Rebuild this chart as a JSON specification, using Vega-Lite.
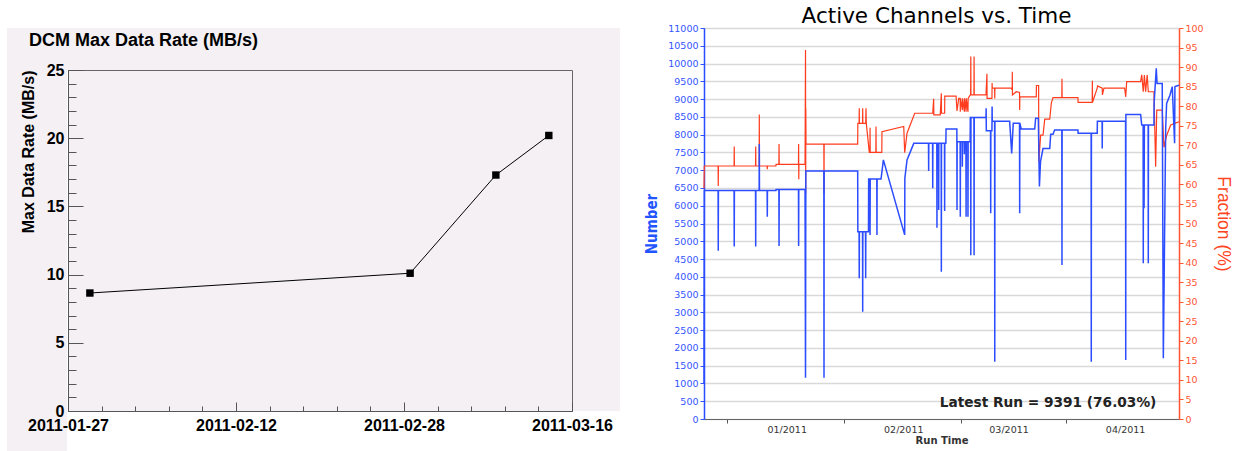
{
"$schema": "https://vega.github.io/schema/vega-lite/v6.json",
"background": "white",
"padding": {"left": 7, "top": 5, "right": 0, "bottom": 0},
"spacing": 697,
"bounds": "flush",
"config": {"view": {"stroke": null}},
"datasets": {
"rate": [
{"date": "2011-01-29T02:00", "rate": 8.65},
{"date": "2011-02-28T14:00", "rate": 10.1},
{"date": "2011-03-08T18:00", "rate": 17.3},
{"date": "2011-03-13T19:00", "rate": 20.2}
],
"note": [{"label": "Latest Run = 9391 (76.03%)"}],
"number": [
{"t":"2010-12-10T00:00","v":1000},{"t":"2010-12-10T02:00","v":6430},
{"t":"2010-12-13T18:00","v":6430},{"t":"2010-12-13T19:00","v":4730},{"t":"2010-12-13T20:00","v":6430},
{"t":"2010-12-18T00:00","v":6430},{"t":"2010-12-18T01:00","v":4850},{"t":"2010-12-18T02:00","v":6430},
{"t":"2010-12-23T17:00","v":6430},{"t":"2010-12-23T18:00","v":4850},{"t":"2010-12-23T19:00","v":6430},
{"t":"2010-12-24T16:00","v":6430},{"t":"2010-12-24T17:00","v":7740},{"t":"2010-12-24T18:00","v":6430},
{"t":"2010-12-26T19:00","v":6430},{"t":"2010-12-26T20:00","v":5690},{"t":"2010-12-26T21:00","v":6430},
{"t":"2010-12-29T03:00","v":6430},{"t":"2010-12-29T04:00","v":6460},
{"t":"2010-12-29T22:00","v":6460},{"t":"2010-12-29T23:00","v":4870},{"t":"2010-12-30T00:00","v":6460},
{"t":"2011-01-04T03:00","v":6460},{"t":"2011-01-04T04:00","v":4870},{"t":"2011-01-04T05:00","v":6460},
{"t":"2011-01-05T21:00","v":6460},{"t":"2011-01-06T00:00","v":1160},{"t":"2011-01-06T02:00","v":6980},
{"t":"2011-01-10T21:00","v":6980},{"t":"2011-01-10T22:00","v":1160},{"t":"2011-01-10T23:00","v":6980},
{"t":"2011-01-19T21:00","v":6980},{"t":"2011-01-19T22:00","v":5270},
{"t":"2011-01-20T06:00","v":5270},{"t":"2011-01-20T07:00","v":3960},{"t":"2011-01-20T08:00","v":5270},
{"t":"2011-01-21T04:00","v":5270},{"t":"2011-01-21T05:00","v":3020},{"t":"2011-01-21T06:00","v":5270},
{"t":"2011-01-21T23:00","v":5270},{"t":"2011-01-22T00:00","v":3960},{"t":"2011-01-22T01:00","v":5270},
{"t":"2011-01-22T18:00","v":5270},{"t":"2011-01-22T19:00","v":6750},
{"t":"2011-01-23T03:00","v":6750},{"t":"2011-01-23T04:00","v":5180},{"t":"2011-01-23T05:00","v":6750},
{"t":"2011-01-24T23:00","v":6750},{"t":"2011-01-25T00:00","v":5180},{"t":"2011-01-25T01:00","v":6750},
{"t":"2011-01-26T02:00","v":6750},{"t":"2011-01-26T17:00","v":7290},
{"t":"2011-02-01T09:00","v":5180},{"t":"2011-02-01T10:00","v":6770},{"t":"2011-02-02T00:00","v":7290},{"t":"2011-02-03T19:00","v":7755},
{"t":"2011-02-07T17:00","v":7755},{"t":"2011-02-07T18:00","v":6980},{"t":"2011-02-07T19:00","v":7755},
{"t":"2011-02-08T19:00","v":7755},{"t":"2011-02-08T20:00","v":6490},{"t":"2011-02-08T21:00","v":7755},
{"t":"2011-02-09T22:00","v":7755},{"t":"2011-02-09T23:00","v":5380},{"t":"2011-02-10T00:00","v":7755},
{"t":"2011-02-10T09:00","v":7755},{"t":"2011-02-10T10:00","v":5880},{"t":"2011-02-10T11:00","v":7755},
{"t":"2011-02-11T02:00","v":7755},{"t":"2011-02-11T03:00","v":4140},{"t":"2011-02-11T04:00","v":7755},
{"t":"2011-02-11T23:00","v":7755},{"t":"2011-02-12T00:00","v":5850},{"t":"2011-02-12T01:00","v":7755},
{"t":"2011-02-12T08:00","v":7755},{"t":"2011-02-12T09:00","v":8160},
{"t":"2011-02-15T06:00","v":8160},{"t":"2011-02-15T07:00","v":5880},{"t":"2011-02-15T08:00","v":7800},
{"t":"2011-02-16T03:00","v":7800},{"t":"2011-02-16T04:00","v":5690},{"t":"2011-02-16T05:00","v":7800},
{"t":"2011-02-16T16:00","v":7800},{"t":"2011-02-16T17:00","v":7100},{"t":"2011-02-16T18:00","v":7800},
{"t":"2011-02-17T05:00","v":7800},{"t":"2011-02-17T06:00","v":7450},{"t":"2011-02-17T07:00","v":7800},
{"t":"2011-02-17T16:00","v":7800},{"t":"2011-02-17T17:00","v":5690},{"t":"2011-02-17T18:00","v":7800},
{"t":"2011-02-18T04:00","v":7800},{"t":"2011-02-18T05:00","v":5690},{"t":"2011-02-18T06:00","v":7800},
{"t":"2011-02-18T19:00","v":7800},{"t":"2011-02-18T20:00","v":8480},
{"t":"2011-02-18T22:00","v":8480},{"t":"2011-02-18T23:00","v":4610},{"t":"2011-02-19T00:00","v":8480},
{"t":"2011-02-19T19:00","v":8480},{"t":"2011-02-19T20:00","v":4610},{"t":"2011-02-19T21:00","v":8480},
{"t":"2011-02-23T00:00","v":8480},{"t":"2011-02-23T01:00","v":8740},{"t":"2011-02-23T02:00","v":8110},
{"t":"2011-02-24T05:00","v":8110},{"t":"2011-02-24T06:00","v":5790},{"t":"2011-02-24T07:00","v":8110},
{"t":"2011-02-24T14:00","v":8110},{"t":"2011-02-24T15:00","v":8790},{"t":"2011-02-24T16:00","v":8380},
{"t":"2011-02-25T07:00","v":8380},{"t":"2011-02-25T08:00","v":1610},{"t":"2011-02-25T09:00","v":8380},
{"t":"2011-03-01T07:00","v":8380},{"t":"2011-03-01T20:00","v":7470},{"t":"2011-03-02T06:00","v":8320},
{"t":"2011-03-03T22:00","v":8320},{"t":"2011-03-03T23:00","v":5790},{"t":"2011-03-04T00:00","v":8320},{"t":"2011-03-04T09:00","v":8160},
{"t":"2011-03-07T23:00","v":8160},{"t":"2011-03-08T05:00","v":8460},
{"t":"2011-03-08T22:00","v":8460},{"t":"2011-03-09T05:00","v":6540},{"t":"2011-03-09T12:00","v":7240},{"t":"2011-03-10T04:00","v":7610},
{"t":"2011-03-11T23:00","v":7610},{"t":"2011-03-12T05:00","v":8010},{"t":"2011-03-12T20:00","v":8010},{"t":"2011-03-13T06:00","v":8130},
{"t":"2011-03-15T04:00","v":8130},{"t":"2011-03-15T05:00","v":4330},{"t":"2011-03-15T06:00","v":8130},
{"t":"2011-03-19T11:00","v":8130},{"t":"2011-03-19T12:00","v":8040},
{"t":"2011-03-22T23:00","v":8040},{"t":"2011-03-23T00:00","v":1610},{"t":"2011-03-23T01:00","v":8040},
{"t":"2011-03-24T14:00","v":8040},{"t":"2011-03-24T15:00","v":8380},
{"t":"2011-03-25T21:00","v":8380},{"t":"2011-03-25T22:00","v":7610},{"t":"2011-03-25T23:00","v":8380},
{"t":"2011-04-01T03:00","v":8380},{"t":"2011-04-01T04:00","v":1660},{"t":"2011-04-01T05:00","v":8570},
{"t":"2011-04-05T03:00","v":8570},{"t":"2011-04-05T10:00","v":8270},
{"t":"2011-04-05T19:00","v":8270},{"t":"2011-04-05T20:00","v":4380},{"t":"2011-04-05T21:00","v":8270},
{"t":"2011-04-06T01:00","v":5930},{"t":"2011-04-06T03:00","v":8270},
{"t":"2011-04-07T03:00","v":8270},{"t":"2011-04-07T04:00","v":4380},{"t":"2011-04-07T05:00","v":8270},
{"t":"2011-04-08T16:00","v":8270},{"t":"2011-04-08T17:00","v":8880},{"t":"2011-04-09T07:00","v":9865},{"t":"2011-04-09T12:00","v":9440},
{"t":"2011-04-10T21:00","v":9440},{"t":"2011-04-11T04:00","v":1710},{"t":"2011-04-11T19:00","v":8180},{"t":"2011-04-12T01:00","v":8880},
{"t":"2011-04-12T22:00","v":9110},{"t":"2011-04-13T13:00","v":9350},{"t":"2011-04-14T04:00","v":7760},{"t":"2011-04-14T06:00","v":9350},{"t":"2011-04-15T08:00","v":9391}
],
"fraction": [
{"t":"2010-12-10T00:00","v":59},{"t":"2010-12-10T02:00","v":64.7},
{"t":"2010-12-13T18:00","v":64.7},{"t":"2010-12-13T19:00","v":59.6},{"t":"2010-12-13T20:00","v":64.7},
{"t":"2010-12-18T00:00","v":64.7},{"t":"2010-12-18T01:00","v":69.7},{"t":"2010-12-18T02:00","v":64.7},
{"t":"2010-12-23T17:00","v":64.7},{"t":"2010-12-23T18:00","v":69.7},{"t":"2010-12-23T19:00","v":64.7},
{"t":"2010-12-24T16:00","v":64.7},{"t":"2010-12-24T17:00","v":77.9},{"t":"2010-12-24T18:00","v":64.7},
{"t":"2010-12-26T19:00","v":64.7},{"t":"2010-12-26T20:00","v":63.9},{"t":"2010-12-26T21:00","v":64.7},
{"t":"2010-12-29T03:00","v":64.7},{"t":"2010-12-29T04:00","v":65.1},
{"t":"2010-12-29T22:00","v":65.1},{"t":"2010-12-29T23:00","v":70.3},{"t":"2010-12-30T00:00","v":65.1},
{"t":"2011-01-04T03:00","v":65.1},{"t":"2011-01-04T04:00","v":70.3},{"t":"2011-01-04T05:00","v":61.3},{"t":"2011-01-04T06:00","v":65.1},
{"t":"2011-01-05T21:00","v":65.1},{"t":"2011-01-06T00:00","v":94.4},{"t":"2011-01-06T01:00","v":57.7},{"t":"2011-01-06T02:00","v":79.5},{"t":"2011-01-06T03:00","v":70.3},
{"t":"2011-01-10T21:00","v":70.3},{"t":"2011-01-10T22:00","v":57.7},{"t":"2011-01-10T23:00","v":70.3},
{"t":"2011-01-19T21:00","v":70.3},{"t":"2011-01-19T22:00","v":75.6},
{"t":"2011-01-20T06:00","v":75.6},{"t":"2011-01-20T07:00","v":79.5},{"t":"2011-01-20T08:00","v":75.6},
{"t":"2011-01-21T04:00","v":75.6},{"t":"2011-01-21T05:00","v":79.5},{"t":"2011-01-21T06:00","v":75.6},
{"t":"2011-01-22T00:00","v":75.6},{"t":"2011-01-22T02:00","v":79.5},{"t":"2011-01-22T04:00","v":75.6},
{"t":"2011-01-22T23:00","v":68.2},
{"t":"2011-01-23T03:00","v":68.2},{"t":"2011-01-23T04:00","v":74.5},{"t":"2011-01-23T05:00","v":68.2},
{"t":"2011-01-24T17:00","v":68.2},{"t":"2011-01-24T18:00","v":74.8},{"t":"2011-01-24T19:00","v":68.2},
{"t":"2011-01-26T07:00","v":68.2},{"t":"2011-01-26T08:00","v":73.5},
{"t":"2011-02-01T03:00","v":74.8},{"t":"2011-02-01T09:00","v":68.1},{"t":"2011-02-02T00:00","v":73.1},{"t":"2011-02-04T01:00","v":78.2},
{"t":"2011-02-08T20:00","v":78.2},{"t":"2011-02-09T02:00","v":81.9},{"t":"2011-02-09T03:00","v":77.8},
{"t":"2011-02-10T20:00","v":77.8},{"t":"2011-02-11T03:00","v":83.3},{"t":"2011-02-11T04:00","v":78.2},
{"t":"2011-02-12T00:00","v":78.2},{"t":"2011-02-12T01:00","v":82.6},
{"t":"2011-02-15T01:00","v":82.6},{"t":"2011-02-15T07:00","v":78.8},
{"t":"2011-02-15T18:00","v":82.0},{"t":"2011-02-16T03:00","v":82.0},{"t":"2011-02-16T04:00","v":78.6},{"t":"2011-02-16T05:00","v":82.0},
{"t":"2011-02-16T17:00","v":79.0},{"t":"2011-02-16T18:00","v":82.0},
{"t":"2011-02-17T06:00","v":78.6},{"t":"2011-02-17T07:00","v":82.0},
{"t":"2011-02-17T17:00","v":78.6},{"t":"2011-02-17T18:00","v":82.0},
{"t":"2011-02-18T05:00","v":78.6},{"t":"2011-02-18T06:00","v":82.0},
{"t":"2011-02-18T20:00","v":82.9},
{"t":"2011-02-18T22:00","v":82.9},{"t":"2011-02-18T23:00","v":92.7},{"t":"2011-02-19T00:00","v":82.9},
{"t":"2011-02-19T19:00","v":82.9},{"t":"2011-02-19T20:00","v":92.7},{"t":"2011-02-19T21:00","v":82.9},
{"t":"2011-02-23T00:00","v":82.9},{"t":"2011-02-23T06:00","v":88.3},{"t":"2011-02-23T07:00","v":82.0},
{"t":"2011-02-24T14:00","v":82.0},{"t":"2011-02-24T15:00","v":85.9},{"t":"2011-02-24T16:00","v":84.6},
{"t":"2011-02-25T07:00","v":84.6},{"t":"2011-02-25T08:00","v":82.0},{"t":"2011-02-25T09:00","v":84.6},
{"t":"2011-03-01T17:00","v":84.6},{"t":"2011-03-01T23:00","v":84.2},{"t":"2011-03-02T00:00","v":88.8},{"t":"2011-03-02T01:00","v":82.9},
{"t":"2011-03-03T01:00","v":83.7},
{"t":"2011-03-03T22:00","v":83.5},{"t":"2011-03-03T23:00","v":79.0},{"t":"2011-03-04T00:00","v":82.4},
{"t":"2011-03-08T09:00","v":82.4},{"t":"2011-03-08T10:00","v":85.3},
{"t":"2011-03-09T00:00","v":85.3},{"t":"2011-03-09T01:00","v":65.8},{"t":"2011-03-09T13:00","v":72.6},
{"t":"2011-03-10T04:00","v":72.6},{"t":"2011-03-10T15:00","v":76.7},
{"t":"2011-03-11T23:00","v":76.7},{"t":"2011-03-12T09:00","v":80.8},{"t":"2011-03-12T20:00","v":82.2},
{"t":"2011-03-15T04:00","v":82.2},{"t":"2011-03-15T05:00","v":87.0},{"t":"2011-03-15T06:00","v":82.2},
{"t":"2011-03-19T11:00","v":82.2},{"t":"2011-03-19T12:00","v":81.0},
{"t":"2011-03-23T06:00","v":81.0},{"t":"2011-03-23T07:00","v":86.5},{"t":"2011-03-23T08:00","v":81.0},
{"t":"2011-03-24T14:00","v":84.6},{"t":"2011-03-24T16:00","v":85.2},
{"t":"2011-03-25T22:00","v":84.6},{"t":"2011-03-25T23:00","v":82.9},{"t":"2011-03-26T09:00","v":84.6},
{"t":"2011-03-31T21:00","v":84.6},{"t":"2011-04-01T04:00","v":82.4},{"t":"2011-04-01T10:00","v":86.3},
{"t":"2011-04-05T03:00","v":86.3},{"t":"2011-04-05T10:00","v":88.0},{"t":"2011-04-05T20:00","v":83.7},
{"t":"2011-04-06T03:00","v":88.0},{"t":"2011-04-06T11:00","v":83.7},{"t":"2011-04-06T21:00","v":88.0},{"t":"2011-04-07T04:00","v":83.7},
{"t":"2011-04-08T16:00","v":83.7},{"t":"2011-04-09T03:00","v":64.5},{"t":"2011-04-09T10:00","v":79.0},
{"t":"2011-04-10T21:00","v":79.0},{"t":"2011-04-11T08:00","v":69.5},{"t":"2011-04-12T01:00","v":72.5},{"t":"2011-04-13T03:00","v":75.2},{"t":"2011-04-14T04:00","v":75.6},{"t":"2011-04-15T08:00","v":76.03}
]
},
"hconcat": [
{
"vconcat": [
{"width": 613, "height": 42, "data": {"values": []}, "mark": {"type": "point", "opacity": 0}, "view": {"fill": "#f4f0f4", "stroke": null}},
{
"hconcat": [
{"width": 60, "height": 381, "data": {"values": []}, "mark": {"type": "point", "opacity": 0}, "view": {"fill": "#f4f0f4", "stroke": null}},
{
"width": 504, "height": 341,
"view": {"fill": "#f4f0f4", "stroke": "#666666", "strokeWidth": 1},
"title": {"text": "DCM Max Data Rate (MB/s)", "anchor": "start", "frame": "group", "dx": -39, "offset": 12, "font": "Liberation Sans", "fontSize": 18, "fontWeight": "bold", "color": "#000000"},
"data": {"name": "rate"},
"encoding": {
"x": {"field": "date", "type": "temporal",
"scale": {"domain": [{"year": 2011, "month": 1, "date": 27}, {"year": 2011, "month": 3, "date": 16}]},
"axis": {"title": null, "grid": false,
"values": [
{"year":2011,"month":1,"date":27},{"year":2011,"month":1,"date":30,"hours":4,"minutes":48},{"year":2011,"month":2,"date":2,"hours":9,"minutes":36},{"year":2011,"month":2,"date":5,"hours":14,"minutes":24},{"year":2011,"month":2,"date":8,"hours":19,"minutes":12},
{"year":2011,"month":2,"date":12},{"year":2011,"month":2,"date":15,"hours":4,"minutes":48},{"year":2011,"month":2,"date":18,"hours":9,"minutes":36},{"year":2011,"month":2,"date":21,"hours":14,"minutes":24},{"year":2011,"month":2,"date":24,"hours":19,"minutes":12},
{"year":2011,"month":2,"date":28},{"year":2011,"month":3,"date":3,"hours":4,"minutes":48},{"year":2011,"month":3,"date":6,"hours":9,"minutes":36},{"year":2011,"month":3,"date":9,"hours":14,"minutes":24},{"year":2011,"month":3,"date":12,"hours":19,"minutes":12},
{"year":2011,"month":3,"date":16}],
"labelExpr": "hours(datum.value) == 0 && minutes(datum.value) == 0 ? timeFormat(datum.value, '%Y-%m-%d') : ''",
"tickSize": {"condition": {"test": "hours(datum.value) == 0 && minutes(datum.value) == 0", "value": -9}, "value": -5},
"tickColor": "#555555", "domainColor": "#555555",
"labelFont": "Liberation Sans", "labelFontSize": 16, "labelFontWeight": "bold", "labelColor": "#000000",
"labelPadding": 15, "labelOverlap": false, "labelFlush": false}},
"y": {"field": "rate", "type": "quantitative",
"scale": {"domain": [0, 25], "nice": false},
"axis": {"title": "Max Data Rate (MB/s)", "grid": false,
"values": [0,1,2,3,4,5,6,7,8,9,10,11,12,13,14,15,16,17,18,19,20,21,22,23,24,25],
"labelExpr": "datum.value % 5 == 0 ? datum.label : ''",
"tickSize": {"condition": {"test": "datum.value % 5 == 0", "value": -15}, "value": -8},
"tickColor": "#555555", "domainColor": "#555555",
"labelFont": "Liberation Sans", "labelFontSize": 16, "labelFontWeight": "bold", "labelColor": "#000000",
"labelPadding": 19, "labelOverlap": false,
"titleFont": "Liberation Sans", "titleFontSize": 16, "titleFontWeight": "bold", "titleColor": "#000000",
"titleAnchor": "end", "titlePadding": 10}}
},
"layer": [
{"mark": {"type": "line", "color": "#000000", "strokeWidth": 1}},
{"mark": {"type": "point", "shape": "square", "filled": true, "color": "#000000", "size": 55, "opacity": 1}}
]
},
{"width": 47, "height": 341, "data": {"values": []}, "mark": {"type": "point", "opacity": 0}, "view": {"fill": "#f4f0f4", "stroke": null}}
],
"spacing": 1,
"bounds": "flush"
}
],
"spacing": 0,
"bounds": "flush"
},
{
"width": 475, "height": 391,
"view": {"stroke": "#888888", "strokeWidth": 1},
"title": {"text": "Active Channels vs. Time", "font": "DejaVu Sans", "fontSize": 21.5, "fontWeight": "normal", "color": "#000000", "offset": -4, "dx": -5},
"layer": [
{"data": {"name": "fraction"},
"mark": {"type": "line", "color": "#ff3c1e", "strokeWidth": 1.2},
"encoding": {
"x": {"field": "t", "type": "temporal",
"scale": {"domain": [{"year":2010,"month":12,"date":10}, {"year":2011,"month":4,"date":15,"hours":8}]},
"axis": {"title": "Run Time", "grid": false,
"values": [{"year":2010,"month":12,"date":16,"hours":6},{"year":2011,"month":1,"date":1},{"year":2011,"month":1,"date":16,"hours":6},{"year":2011,"month":2,"date":1},{"year":2011,"month":2,"date":16,"hours":6},{"year":2011,"month":3,"date":1},{"year":2011,"month":3,"date":16,"hours":6},{"year":2011,"month":4,"date":1}],
"labelExpr": "date(datum.value) == 1 ? timeFormat(datum.value, '%m/%Y') : ''",
"tickOpacity": {"condition": {"test": "date(datum.value) == 1", "value": 0}, "value": 1},
"tickSize": 4, "tickColor": "#555555", "domainColor": "#666666",
"labelFont": "DejaVu Sans", "labelFontSize": 9.5, "labelColor": "#333333", "labelPadding": 1, "labelOverlap": false, "labelFlush": false,
"titleFont": "DejaVu Sans", "titleFontSize": 10, "titleFontWeight": "bold", "titleColor": "#333333", "titlePadding": 2}},
"y": {"field": "v", "type": "quantitative",
"scale": {"domain": [0, 100], "nice": false},
"axis": {"orient": "right", "title": "Fraction (%)", "grid": false,
"values": [0,5,10,15,20,25,30,35,40,45,50,55,60,65,70,75,80,85,90,95,100],
"tickSize": 4, "tickColor": "#ff5533", "domainColor": "#ff5533", "domainWidth": 1.5,
"labelFont": "DejaVu Sans", "labelFontSize": 9.5, "labelColor": "#ff5533", "labelPadding": 2, "labelOverlap": false,
"titleFont": "Liberation Sans", "titleFontSize": 17.5, "titleFontWeight": "normal", "titleColor": "#ff4422", "titlePadding": 10}}
}},
{"data": {"name": "number"},
"mark": {"type": "line", "color": "#2b4cff", "strokeWidth": 1.5},
"encoding": {
"x": {"field": "t", "type": "temporal"},
"y": {"field": "v", "type": "quantitative",
"scale": {"domain": [0, 11000], "nice": false},
"axis": {"orient": "left", "title": "Number",
"values": [0,500,1000,1500,2000,2500,3000,3500,4000,4500,5000,5500,6000,6500,7000,7500,8000,8500,9000,9500,10000,10500,11000],
"format": "d",
"grid": true, "gridColor": "#d9d9d9", "gridWidth": 1.5,
"tickSize": 4, "tickColor": "#3355ff", "domainColor": "#2a4cff", "domainWidth": 1.5,
"labelFont": "DejaVu Sans", "labelFontSize": 9.5, "labelColor": "#3355ff", "labelPadding": 2, "labelOverlap": false,
"titleFont": "'DejaVu Sans Condensed', 'Liberation Sans', sans-serif", "titleFontSize": 15, "titleFontWeight": "bold", "titleColor": "#2255ff", "titlePadding": 8}}
}},
{"data": {"name": "note"},
"mark": {"type": "text", "font": "DejaVu Sans", "fontSize": 13.7, "fontWeight": "bold", "color": "#222222", "align": "center", "baseline": "middle"},
"encoding": {
"x": {"datum": {"year": 2011, "month": 3, "date": 11, "hours": 12}, "type": "temporal"},
"y": {"datum": 450, "type": "quantitative", "scale": {"domain": [0, 11000], "nice": false}, "axis": null},
"text": {"field": "label", "type": "nominal"}
}}
],
"resolve": {"scale": {"y": "independent"}}
}
]
}
